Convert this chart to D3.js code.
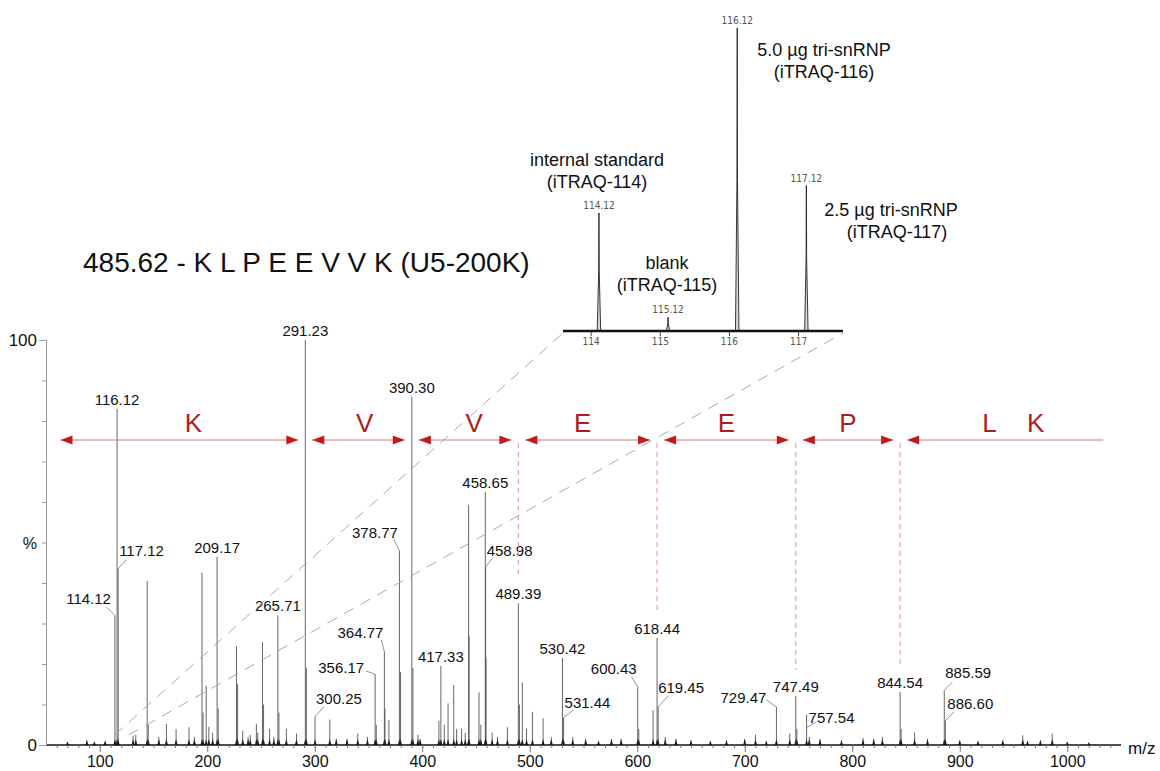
<!DOCTYPE html>
<html>
<head>
<meta charset="utf-8">
<script src="https://cdn.jsdelivr.net/npm/d3@7"></script>
<style>
body { margin: 0; background: #fff; }
text { font-family: "Liberation Sans", Arial, sans-serif; }
</style>
</head>
<body>
<div id="viz"></div>
<script>
// labelled peaks (m/z, relative intensity %)
var labelMz = [114.12, 116.12, 117.12, 209.17, 265.71, 291.23, 300.25, 356.17, 364.77, 378.77,
    390.30, 417.33, 458.65, 458.98, 489.39, 530.42, 531.44, 600.43, 618.44, 619.45,
    729.47, 747.49, 757.54, 844.54, 885.59, 886.60];
var labelInt = [32, 83, 43.5, 46.5, 32, 100, 7, 17.5, 23, 48,
    86, 19.5, 62.5, 44, 35, 21.5, 6.7, 14.3, 26.4, 9.4,
    9.4, 12.1, 7.5, 13.1, 13.5, 6];

// unlabelled peaks
var minorMz = [70, 88, 95, 105, 131, 133.5, 144.1, 145.1, 155, 162, 171, 183, 188, 195.1, 196.1, 199,
    201.5, 205, 210.2, 227.2, 228.2, 233, 238, 240, 245.7, 247, 251.4, 252.4, 258, 262, 266.7, 273.6,
    283, 292.2, 314, 320, 330, 340, 349, 357.2, 365.3, 369, 379.8, 391.3, 396, 398, 415.5, 420.5,
    424, 429.3, 432, 436.6, 440, 443.1, 443.6, 452.8, 454.5, 459.3, 465, 470, 479.2, 490.4, 493.1,
    497, 502.5, 512.4, 520, 540, 552, 564, 576, 585, 601.4, 614.7, 626, 636, 650, 668, 683, 700,
    710, 720, 741.9, 748.5, 760, 770, 790, 810, 820, 828, 845.5, 858, 870, 900, 917, 940, 958.6,
    963, 975, 986, 1000, 1020];
var minorInt = [0.8, 1.2, 0.8, 1, 2.3, 2.5, 40.5, 5, 2, 5.2, 3.9, 4.4, 2, 42.5, 8, 14.6,
    4.5, 3, 9, 24.4, 15, 3.5, 2, 2.5, 5.2, 3, 25.4, 10, 4, 2, 8, 4,
    2.8, 19, 6.3, 1.5, 1.5, 2.8, 2, 5, 9, 6.2, 18, 19, 2.5, 1.5, 6, 5,
    10.3, 14.8, 4, 4, 3, 59.3, 27, 13, 5, 21.5, 3, 2, 4.4, 10, 15.4,
    4, 8.2, 6.6, 2, 2, 1.5, 1, 1.5, 1.5, 4, 8.6, 2, 1.5, 1.2, 1, 1.2, 1.5,
    2.5, 1, 2.8, 4, 2, 1.5, 1.2, 1.8, 1.5, 2, 4, 3.1, 1.5, 1.2, 1, 1.2, 2.4,
    1, 1.2, 2.8, 0.8, 0.6];

var xTicks = [100, 200, 300, 400, 500, 600, 700, 800, 900, 1000];

// iTRAQ reporter region (inset)
var insetMz = [114.12, 115.12, 116.12, 117.12];
var insetInt = [39, 4.6, 100, 48];
var insetTicks = [114, 115, 116, 117];
var insetNotes = [
    ['internal standard', '(iTRAQ-114)'],
    ['blank', '(iTRAQ-115)'],
    ['5.0 \u00b5g tri-snRNP', '(iTRAQ-116)'],
    ['2.5 \u00b5g tri-snRNP', '(iTRAQ-117)']
];

// sequence ladder: residue boundaries in m/z
var seqBounds = [57, 291.23, 390.30, 489.39, 618.44, 747.49, 844.54, 1040];
var seqResidues = ['K', 'V', 'V', 'E', 'E', 'P', 'L K'];
var dashedBounds = [489.39, 618.44, 747.49, 844.54];

var title = '485.62 - K L P E E V V K (U5-200K)';

// ---- layout ----
var width = 1160, height = 771;
var svg = d3.select('#viz').append('svg')
    .attr('width', width)
    .attr('height', height)
    .style('background', '#fff');

var x = d3.scaleLinear().domain([50, 1050]).range([46, 1121]);
var y = d3.scaleLinear().domain([0, 100]).range([745, 340]);

var ix = d3.scaleLinear().domain([113.6, 117.65]).range([563, 843]);
var iy = d3.scaleLinear().domain([0, 100]).range([331, 28]);

// label placement for labels that sit beside their peak (offsets from the peak top)
var sideLabels = {
    '114.12': { a: 'end', tx: -4, ty: -11, l: [0, 0, -8, -8] },
    '117.12': { a: 'start', tx: 1, ty: -12.5, l: [0, 0, 8, -9] },
    '300.25': { a: 'start', tx: 1, ty: -13, l: [0, 0, 9, -10] },
    '356.17': { a: 'end', tx: -11, ty: -1.5, l: [0, 0, -9, -3] },
    '364.77': { a: 'end', tx: -1, ty: -13.5, l: [0, 0, -3, -12] },
    '378.77': { a: 'end', tx: -1.5, ty: -13, l: [0, 0, -6, -12] },
    '458.98': { a: 'start', tx: 1, ty: -11, l: [0, 0, 7, -9] },
    '531.44': { a: 'start', tx: 1, ty: -9.5, l: [0, 0, 10, -8] },
    '600.43': { a: 'end', tx: -1, ty: -13.5, l: [0, 0, -6, -10] },
    '619.45': { a: 'start', tx: 0, ty: -13.5, l: [0, 0, 10, -11] },
    '729.47': { a: 'end', tx: -10, ty: -3.5, l: [0, 0, -10, -7] },
    '757.54': { a: 'start', tx: 2, ty: 8, l: [0, 13, 10, 7] },
    '885.59': { a: 'start', tx: 1, ty: -12, l: [0, 0, 8, -8] },
    '886.60': { a: 'start', tx: 2, ty: -12, l: [0, 0, 9, -9] }
};

// ---- main spectrum ----
var allPeaks = minorMz.map(function(d, i) { return { mz: d, v: minorInt[i] }; })
    .concat(labelMz.map(function(d, i) { return { mz: d, v: labelInt[i] }; }));

var gSpec = svg.append('g');
gSpec.selectAll('line.peak').data(allPeaks)
    .enter().append('line')
    .attr('class', 'peak')
    .attr('x1', function(d) { return x(d.mz); })
    .attr('x2', function(d) { return x(d.mz); })
    .attr('y1', y(0))
    .attr('y2', function(d) { return y(d.v); })
    .style('stroke', '#555')
    .style('stroke-width', 0.9);

// darker peak feet
gSpec.selectAll('path.foot').data(allPeaks)
    .enter().append('path')
    .attr('class', 'foot')
    .attr('d', function(d) {
        var h = Math.min(y(0) - y(d.v), 6);
        var cx = x(d.mz);
        return 'M' + (cx - 1.6) + ',' + y(0) + 'L' + cx + ',' + (y(0) - h) + 'L' + (cx + 1.6) + ',' + y(0) + 'Z';
    })
    .style('fill', '#222');

// x axis
svg.append('line')
    .attr('x1', x(50)).attr('x2', x(1050))
    .attr('y1', y(0)).attr('y2', y(0))
    .style('stroke', '#111').style('stroke-width', 1.6);

svg.append('g')
    .attr('transform', 'translate(0,' + y(0) + ')')
    .call(d3.axisBottom(x).tickValues(d3.range(60, 1050, 10)).tickSize(3).tickFormat(''))
    .call(function(g) { g.select('.domain').remove(); g.selectAll('line').style('stroke', '#777'); });

var xAxis = svg.append('g')
    .attr('transform', 'translate(0,' + y(0) + ')')
    .call(d3.axisBottom(x).tickValues(xTicks).tickSize(7).tickPadding(4).tickFormat(d3.format('d')));
xAxis.select('.domain').remove();
xAxis.selectAll('line').style('stroke', '#777');
xAxis.selectAll('text')
    .style('font-size', '16px')
    .style('font-family', '"Liberation Sans", Arial, sans-serif')
    .style('fill', '#111');

svg.append('text')
    .attr('x', 1128).attr('y', 754)
    .style('font-size', '17px').style('fill', '#111')
    .text('m/z');

// y axis
var yAxisMinor = svg.append('g')
    .attr('transform', 'translate(' + x(50) + ',0)')
    .call(d3.axisLeft(y).tickValues(d3.range(10, 100, 10)).tickSize(4).tickFormat(''));
yAxisMinor.select('.domain').style('stroke', '#999');
yAxisMinor.selectAll('line').style('stroke', '#999');

var yAxis = svg.append('g')
    .attr('transform', 'translate(' + x(50) + ',0)')
    .call(d3.axisLeft(y).tickValues([0, 100]).tickSize(7).tickPadding(2));
yAxis.select('.domain').remove();
yAxis.selectAll('line').style('stroke', '#999');
yAxis.selectAll('text')
    .style('font-size', '17px')
    .style('font-family', '"Liberation Sans", Arial, sans-serif')
    .style('fill', '#111');

svg.append('text')
    .attr('x', 37).attr('y', y(50) + 6)
    .attr('text-anchor', 'end')
    .style('font-size', '16px').style('fill', '#111')
    .text('%');

// peak labels
var labels = labelMz.map(function(d, i) {
    return { mz: d, v: labelInt[i], t: d.toFixed(2) };
});
var gLab = svg.append('g');
labels.forEach(function(d) {
    var px = x(d.mz), py = y(d.v);
    var s = sideLabels[d.t];
    if (s) {
        gLab.append('line')
            .attr('x1', px + s.l[0]).attr('y1', py + s.l[1])
            .attr('x2', px + s.l[2]).attr('y2', py + s.l[3])
            .style('stroke', '#777').style('stroke-width', 0.8);
        gLab.append('text')
            .attr('x', px + s.tx).attr('y', py + s.ty)
            .attr('text-anchor', s.a)
            .style('font-size', '15px').style('fill', '#111')
            .text(d.t);
    } else {
        gLab.append('text')
            .attr('x', px).attr('y', py - 4)
            .attr('text-anchor', 'middle')
            .style('font-size', '15px').style('fill', '#111')
            .text(d.t);
    }
});

// ---- sequence ladder ----
var arrowY = 440, gap = 7, red = '#c41a1a';
var gSeq = svg.append('g');
seqResidues.forEach(function(r, i) {
    var x0 = x(seqBounds[i]) + gap;
    var x1 = x(seqBounds[i + 1]) - gap;
    var last = i === seqResidues.length - 1;
    gSeq.append('line')
        .attr('x1', x0).attr('x2', x1)
        .attr('y1', arrowY).attr('y2', arrowY)
        .style('stroke', '#e47070').style('stroke-width', 1);
    gSeq.append('path')
        .attr('d', 'M' + x0 + ',' + arrowY + 'l12,-4.5l0,9z')
        .style('fill', red);
    if (!last) {
        gSeq.append('path')
            .attr('d', 'M' + x1 + ',' + arrowY + 'l-12,-4.5l0,9z')
            .style('fill', red);
    }
    var shift = [14, 6, 9, -5, 0, 0, 14][i];
    gSeq.append('text')
        .attr('x', (x0 + x1) / 2 + shift)
        .attr('y', arrowY - 8)
        .attr('text-anchor', 'middle')
        .style('font-size', '26px')
        .style('letter-spacing', last ? '12px' : '0px')
        .style('white-space', 'pre')
        .style('fill', '#b01c1c')
        .text(r);
});

gSeq.selectAll('line.vdash').data(dashedBounds)
    .enter().append('line')
    .attr('class', 'vdash')
    .attr('x1', function(d) { return x(d); })
    .attr('x2', function(d) { return x(d); })
    .attr('y1', arrowY + 3)
    .attr('y2', function(d) {
        var i = labelMz.indexOf(d);
        return y(labelInt[i]) - 26;
    })
    .style('stroke', '#ee9090')
    .style('stroke-width', 1)
    .style('stroke-dasharray', '5,4');

// ---- inset: iTRAQ reporter ions ----
var gIn = svg.append('g');

// zoom guide lines from the main spectrum to the inset
var guides = [[114, ix.range()[0]], [127, ix.range()[1]]];
gIn.selectAll('line.guide').data(guides)
    .enter().append('line')
    .attr('class', 'guide')
    .attr('x1', function(d) { return x(d[0]); })
    .attr('y1', y(2.5))
    .attr('x2', function(d) { return d[1]; })
    .attr('y2', iy(0) + 2)
    .style('stroke', '#aaa')
    .style('stroke-width', 1)
    .style('stroke-dasharray', '11,8');

var inset = insetMz.map(function(d, i) { return { mz: d, v: insetInt[i] }; });
var peakLine = d3.line()
    .x(function(p) { return ix(p[0]); })
    .y(function(p) { return iy(p[1]); });

gIn.selectAll('path.ipk').data(inset)
    .enter().append('path')
    .attr('class', 'ipk')
    .attr('d', function(d) {
        return peakLine([[d.mz - 0.025, 0], [d.mz - 0.004, d.v * 0.5], [d.mz, d.v], [d.mz + 0.004, d.v * 0.5], [d.mz + 0.025, 0]]) + 'Z';
    })
    .style('fill', '#d8d8d8')
    .style('stroke', '#222')
    .style('stroke-width', 0.9);

gIn.append('line')
    .attr('x1', ix.range()[0]).attr('x2', ix.range()[1])
    .attr('y1', iy(0)).attr('y2', iy(0))
    .style('stroke', '#111').style('stroke-width', 2.4);

var iAxis = gIn.append('g')
    .attr('transform', 'translate(0,' + (iy(0) + 1) + ')')
    .call(d3.axisBottom(ix).tickValues(insetTicks).tickSize(4).tickPadding(2).tickFormat(d3.format('d')));
iAxis.select('.domain').remove();
iAxis.selectAll('line').style('stroke', '#444');
iAxis.selectAll('text')
    .style('font-size', '10px')
    .style('font-family', '"Liberation Sans Narrow", "DejaVu Sans Condensed", Arial, sans-serif')
    .style('fill', '#555');

gIn.selectAll('text.ilab').data(inset)
    .enter().append('text')
    .attr('class', 'ilab')
    .attr('x', function(d) { return ix(d.mz); })
    .attr('y', function(d) { return iy(d.v) - 4; })
    .attr('text-anchor', 'middle')
    .style('font-size', '10px')
    .style('font-family', '"Liberation Sans Narrow", "DejaVu Sans Condensed", Arial, sans-serif')
    .style('fill', '#555')
    .text(function(d) { return d.mz.toFixed(2); });

// reporter descriptions
var notePos = [[597, 166, 597], [667, 269, 667], [824, 56, 824], [891, 216, 897]];
insetNotes.forEach(function(n, i) {
    var p = notePos[i];
    var t = gIn.append('text')
        .attr('text-anchor', 'middle')
        .style('font-size', '18px')
        .style('fill', '#111');
    t.append('tspan').attr('x', p[0]).attr('y', p[1]).text(n[0]);
    t.append('tspan').attr('x', p[2]).attr('y', p[1] + 22).text(n[1]);
});

// title
svg.append('text')
    .attr('x', 83).attr('y', 272)
    .style('font-size', '28px')
    .style('fill', '#111')
    .text(title);
</script>
</body>
</html>
